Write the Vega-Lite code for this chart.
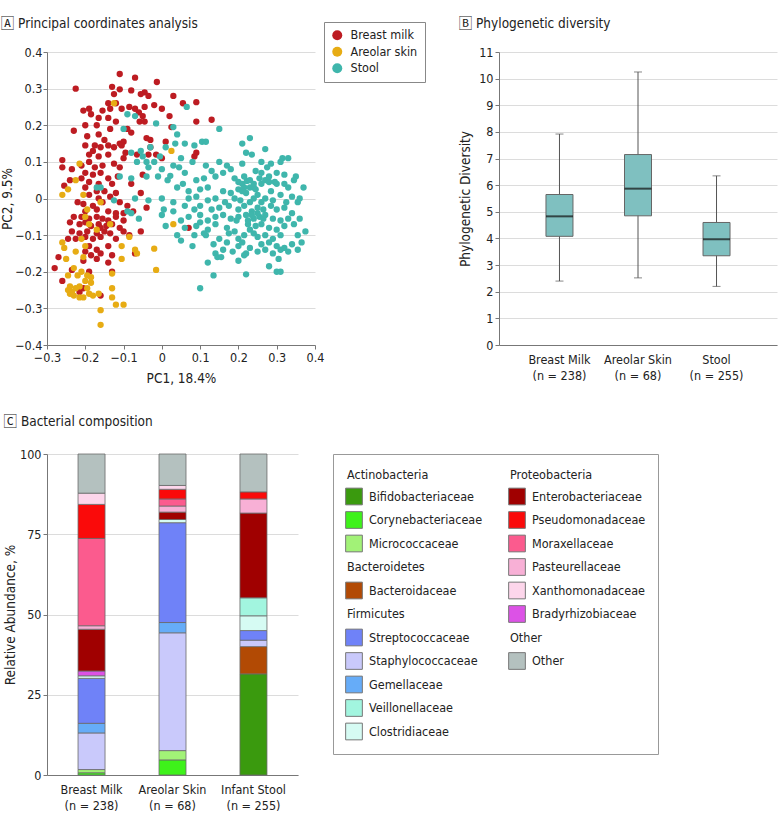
{
"$schema": "https://vega.github.io/schema/vega-lite/v6.json",
"padding": {"left": 0, "top": 16, "right": 2, "bottom": 2},
"resolve": {"scale": {"color": "independent"}, "legend": {"color": "independent"}},
"config": {
 "view": {"stroke": null},
 "font": "DejaVu Sans Condensed, sans-serif",
 "axis": {"labelFontSize": 12.5, "labelColor": "#222", "titleFontSize": 13.5, "titleFontWeight": "normal", "titleColor": "#222", "domainColor": "#777", "tickColor": "#777", "gridColor": "#dcdcdc", "labelOverlap": false, "labelFlush": false},
 "title": {"fontSize": 13.5, "fontWeight": "normal", "anchor": "start", "frame": "bounds", "color": "#222", "font": "DejaVu Sans Condensed, Noto Sans CJK SC, sans-serif"}
},
"columns": 1,
"align": "none",
"concat": [
{
 "hconcat": [
 {
  "title": {"text": "🄰  Principal coordinates analysis", "offset": 16},
  "width": 268, "height": 293,
  "data": {"values": [
{"sample":"Breast milk","pc1":-0.225,"pc2":0.3},{"sample":"Breast milk","pc1":-0.11,"pc2":0.34},{"sample":"Breast milk","pc1":-0.07,"pc2":0.33},{"sample":"Breast milk","pc1":-0.013,"pc2":0.318},{"sample":"Breast milk","pc1":-0.13,"pc2":0.305},{"sample":"Breast milk","pc1":-0.11,"pc2":0.298},{"sample":"Breast milk","pc1":-0.08,"pc2":0.295},{"sample":"Breast milk","pc1":-0.045,"pc2":0.29},{"sample":"Breast milk","pc1":-0.035,"pc2":0.28},{"sample":"Breast milk","pc1":-0.125,"pc2":0.285},{"sample":"Breast milk","pc1":-0.055,"pc2":0.285},{"sample":"Breast milk","pc1":0.03,"pc2":0.28},{"sample":"Breast milk","pc1":-0.12,"pc2":0.26},{"sample":"Breast milk","pc1":-0.14,"pc2":0.26},{"sample":"Breast milk","pc1":-0.085,"pc2":0.25},{"sample":"Breast milk","pc1":-0.07,"pc2":0.245},{"sample":"Breast milk","pc1":-0.045,"pc2":0.25},{"sample":"Breast milk","pc1":-0.02,"pc2":0.255},{"sample":"Breast milk","pc1":0.055,"pc2":0.26},{"sample":"Breast milk","pc1":0.09,"pc2":0.263},{"sample":"Breast milk","pc1":-0.19,"pc2":0.245},{"sample":"Breast milk","pc1":-0.205,"pc2":0.24},{"sample":"Breast milk","pc1":-0.155,"pc2":0.24},{"sample":"Breast milk","pc1":-0.135,"pc2":0.245},{"sample":"Breast milk","pc1":-0.105,"pc2":0.245},{"sample":"Breast milk","pc1":-0.06,"pc2":0.235},{"sample":"Breast milk","pc1":0.0,"pc2":0.245},{"sample":"Breast milk","pc1":-0.185,"pc2":0.23},{"sample":"Breast milk","pc1":-0.165,"pc2":0.22},{"sample":"Breast milk","pc1":-0.14,"pc2":0.22},{"sample":"Breast milk","pc1":-0.05,"pc2":0.225},{"sample":"Breast milk","pc1":-0.058,"pc2":0.21},{"sample":"Breast milk","pc1":-0.045,"pc2":0.21},{"sample":"Breast milk","pc1":0.02,"pc2":0.225},{"sample":"Breast milk","pc1":0.09,"pc2":0.21},{"sample":"Breast milk","pc1":0.13,"pc2":0.215},{"sample":"Breast milk","pc1":-0.2,"pc2":0.2},{"sample":"Breast milk","pc1":-0.17,"pc2":0.2},{"sample":"Breast milk","pc1":-0.12,"pc2":0.21},{"sample":"Breast milk","pc1":-0.23,"pc2":0.185},{"sample":"Breast milk","pc1":-0.135,"pc2":0.19},{"sample":"Breast milk","pc1":-0.09,"pc2":0.19},{"sample":"Breast milk","pc1":-0.08,"pc2":0.18},{"sample":"Breast milk","pc1":0.025,"pc2":0.195},{"sample":"Breast milk","pc1":-0.195,"pc2":0.17},{"sample":"Breast milk","pc1":-0.165,"pc2":0.175},{"sample":"Breast milk","pc1":-0.15,"pc2":0.16},{"sample":"Breast milk","pc1":-0.11,"pc2":0.15},{"sample":"Breast milk","pc1":-0.1,"pc2":0.155},{"sample":"Breast milk","pc1":-0.04,"pc2":0.165},{"sample":"Breast milk","pc1":-0.03,"pc2":0.16},{"sample":"Breast milk","pc1":0.01,"pc2":0.155},{"sample":"Breast milk","pc1":-0.2,"pc2":0.145},{"sample":"Breast milk","pc1":-0.175,"pc2":0.145},{"sample":"Breast milk","pc1":-0.16,"pc2":0.14},{"sample":"Breast milk","pc1":-0.14,"pc2":0.145},{"sample":"Breast milk","pc1":-0.125,"pc2":0.14},{"sample":"Breast milk","pc1":-0.105,"pc2":0.145},{"sample":"Breast milk","pc1":-0.095,"pc2":0.125},{"sample":"Breast milk","pc1":-0.03,"pc2":0.14},{"sample":"Breast milk","pc1":0.09,"pc2":0.125},{"sample":"Breast milk","pc1":0.085,"pc2":0.115},{"sample":"Breast milk","pc1":-0.18,"pc2":0.13},{"sample":"Breast milk","pc1":-0.19,"pc2":0.12},{"sample":"Breast milk","pc1":-0.165,"pc2":0.115},{"sample":"Breast milk","pc1":-0.14,"pc2":0.12},{"sample":"Breast milk","pc1":-0.1,"pc2":0.11},{"sample":"Breast milk","pc1":-0.065,"pc2":0.12},{"sample":"Breast milk","pc1":-0.035,"pc2":0.12},{"sample":"Breast milk","pc1":-0.015,"pc2":0.12},{"sample":"Breast milk","pc1":0.0,"pc2":0.11},{"sample":"Breast milk","pc1":-0.26,"pc2":0.105},{"sample":"Breast milk","pc1":-0.26,"pc2":0.085},{"sample":"Breast milk","pc1":-0.235,"pc2":0.08},{"sample":"Breast milk","pc1":-0.21,"pc2":0.09},{"sample":"Breast milk","pc1":-0.19,"pc2":0.1},{"sample":"Breast milk","pc1":-0.175,"pc2":0.085},{"sample":"Breast milk","pc1":-0.155,"pc2":0.09},{"sample":"Breast milk","pc1":-0.125,"pc2":0.095},{"sample":"Breast milk","pc1":-0.11,"pc2":0.085},{"sample":"Breast milk","pc1":-0.2,"pc2":0.07},{"sample":"Breast milk","pc1":-0.18,"pc2":0.065},{"sample":"Breast milk","pc1":-0.16,"pc2":0.07},{"sample":"Breast milk","pc1":-0.14,"pc2":0.055},{"sample":"Breast milk","pc1":-0.115,"pc2":0.06},{"sample":"Breast milk","pc1":-0.05,"pc2":0.065},{"sample":"Breast milk","pc1":-0.21,"pc2":0.055},{"sample":"Breast milk","pc1":-0.24,"pc2":0.05},{"sample":"Breast milk","pc1":-0.255,"pc2":0.035},{"sample":"Breast milk","pc1":-0.19,"pc2":0.045},{"sample":"Breast milk","pc1":-0.165,"pc2":0.04},{"sample":"Breast milk","pc1":-0.13,"pc2":0.04},{"sample":"Breast milk","pc1":-0.08,"pc2":0.04},{"sample":"Breast milk","pc1":-0.2,"pc2":0.03},{"sample":"Breast milk","pc1":-0.17,"pc2":0.02},{"sample":"Breast milk","pc1":-0.15,"pc2":0.02},{"sample":"Breast milk","pc1":-0.12,"pc2":0.015},{"sample":"Breast milk","pc1":-0.055,"pc2":0.015},{"sample":"Breast milk","pc1":-0.19,"pc2":0.01},{"sample":"Breast milk","pc1":-0.165,"pc2":0.0},{"sample":"Breast milk","pc1":-0.135,"pc2":0.005},{"sample":"Breast milk","pc1":-0.22,"pc2":-0.01},{"sample":"Breast milk","pc1":-0.205,"pc2":-0.015},{"sample":"Breast milk","pc1":-0.18,"pc2":-0.02},{"sample":"Breast milk","pc1":-0.155,"pc2":-0.01},{"sample":"Breast milk","pc1":-0.11,"pc2":-0.01},{"sample":"Breast milk","pc1":-0.09,"pc2":-0.02},{"sample":"Breast milk","pc1":-0.04,"pc2":-0.025},{"sample":"Breast milk","pc1":-0.2,"pc2":-0.035},{"sample":"Breast milk","pc1":-0.17,"pc2":-0.03},{"sample":"Breast milk","pc1":-0.14,"pc2":-0.035},{"sample":"Breast milk","pc1":-0.12,"pc2":-0.04},{"sample":"Breast milk","pc1":-0.1,"pc2":-0.04},{"sample":"Breast milk","pc1":-0.075,"pc2":-0.035},{"sample":"Breast milk","pc1":-0.23,"pc2":-0.05},{"sample":"Breast milk","pc1":-0.21,"pc2":-0.05},{"sample":"Breast milk","pc1":-0.19,"pc2":-0.055},{"sample":"Breast milk","pc1":-0.17,"pc2":-0.05},{"sample":"Breast milk","pc1":-0.155,"pc2":-0.055},{"sample":"Breast milk","pc1":-0.14,"pc2":-0.06},{"sample":"Breast milk","pc1":-0.12,"pc2":-0.05},{"sample":"Breast milk","pc1":-0.1,"pc2":-0.06},{"sample":"Breast milk","pc1":-0.24,"pc2":-0.065},{"sample":"Breast milk","pc1":-0.215,"pc2":-0.07},{"sample":"Breast milk","pc1":-0.2,"pc2":-0.065},{"sample":"Breast milk","pc1":-0.185,"pc2":-0.075},{"sample":"Breast milk","pc1":-0.165,"pc2":-0.07},{"sample":"Breast milk","pc1":-0.145,"pc2":-0.075},{"sample":"Breast milk","pc1":-0.13,"pc2":-0.07},{"sample":"Breast milk","pc1":-0.16,"pc2":-0.08},{"sample":"Breast milk","pc1":-0.11,"pc2":-0.08},{"sample":"Breast milk","pc1":0.07,"pc2":-0.08},{"sample":"Breast milk","pc1":-0.235,"pc2":-0.09},{"sample":"Breast milk","pc1":-0.215,"pc2":-0.095},{"sample":"Breast milk","pc1":-0.195,"pc2":-0.09},{"sample":"Breast milk","pc1":-0.17,"pc2":-0.095},{"sample":"Breast milk","pc1":-0.15,"pc2":-0.09},{"sample":"Breast milk","pc1":-0.135,"pc2":-0.095},{"sample":"Breast milk","pc1":-0.1,"pc2":-0.09},{"sample":"Breast milk","pc1":-0.085,"pc2":-0.1},{"sample":"Breast milk","pc1":-0.055,"pc2":-0.09},{"sample":"Breast milk","pc1":-0.245,"pc2":-0.11},{"sample":"Breast milk","pc1":-0.225,"pc2":-0.11},{"sample":"Breast milk","pc1":-0.2,"pc2":-0.105},{"sample":"Breast milk","pc1":-0.18,"pc2":-0.11},{"sample":"Breast milk","pc1":-0.16,"pc2":-0.105},{"sample":"Breast milk","pc1":-0.12,"pc2":-0.11},{"sample":"Breast milk","pc1":-0.19,"pc2":-0.13},{"sample":"Breast milk","pc1":-0.17,"pc2":-0.14},{"sample":"Breast milk","pc1":-0.14,"pc2":-0.13},{"sample":"Breast milk","pc1":-0.2,"pc2":-0.145},{"sample":"Breast milk","pc1":-0.185,"pc2":-0.155},{"sample":"Breast milk","pc1":-0.16,"pc2":-0.15},{"sample":"Breast milk","pc1":-0.13,"pc2":-0.155},{"sample":"Breast milk","pc1":-0.07,"pc2":-0.15},{"sample":"Breast milk","pc1":-0.27,"pc2":-0.16},{"sample":"Breast milk","pc1":-0.28,"pc2":-0.19},{"sample":"Breast milk","pc1":-0.205,"pc2":-0.17},{"sample":"Breast milk","pc1":-0.17,"pc2":-0.165},{"sample":"Breast milk","pc1":-0.14,"pc2":-0.175},{"sample":"Breast milk","pc1":-0.235,"pc2":-0.195},{"sample":"Breast milk","pc1":-0.26,"pc2":-0.225},{"sample":"Breast milk","pc1":-0.215,"pc2":-0.255},{"sample":"Breast milk","pc1":-0.205,"pc2":-0.245},{"sample":"Breast milk","pc1":-0.16,"pc2":-0.265},{"sample":"Breast milk","pc1":-0.13,"pc2":-0.2},{"sample":"Breast milk","pc1":-0.19,"pc2":-0.2},
{"sample":"Areolar skin","pc1":-0.125,"pc2":0.26},{"sample":"Areolar skin","pc1":0.025,"pc2":0.13},{"sample":"Areolar skin","pc1":-0.215,"pc2":0.095},{"sample":"Areolar skin","pc1":-0.26,"pc2":0.01},{"sample":"Areolar skin","pc1":-0.225,"pc2":0.05},{"sample":"Areolar skin","pc1":-0.245,"pc2":0.025},{"sample":"Areolar skin","pc1":-0.205,"pc2":0.01},{"sample":"Areolar skin","pc1":-0.16,"pc2":-0.01},{"sample":"Areolar skin","pc1":-0.195,"pc2":-0.03},{"sample":"Areolar skin","pc1":-0.2,"pc2":-0.05},{"sample":"Areolar skin","pc1":-0.19,"pc2":-0.07},{"sample":"Areolar skin","pc1":-0.135,"pc2":-0.07},{"sample":"Areolar skin","pc1":-0.17,"pc2":-0.085},{"sample":"Areolar skin","pc1":-0.085,"pc2":-0.105},{"sample":"Areolar skin","pc1":0.03,"pc2":-0.07},{"sample":"Areolar skin","pc1":-0.26,"pc2":-0.12},{"sample":"Areolar skin","pc1":-0.255,"pc2":-0.135},{"sample":"Areolar skin","pc1":-0.21,"pc2":-0.11},{"sample":"Areolar skin","pc1":-0.2,"pc2":-0.13},{"sample":"Areolar skin","pc1":-0.105,"pc2":-0.13},{"sample":"Areolar skin","pc1":-0.065,"pc2":-0.15},{"sample":"Areolar skin","pc1":-0.07,"pc2":-0.14},{"sample":"Areolar skin","pc1":-0.02,"pc2":-0.137},{"sample":"Areolar skin","pc1":-0.25,"pc2":-0.165},{"sample":"Areolar skin","pc1":-0.225,"pc2":-0.145},{"sample":"Areolar skin","pc1":-0.205,"pc2":-0.16},{"sample":"Areolar skin","pc1":-0.105,"pc2":-0.165},{"sample":"Areolar skin","pc1":-0.23,"pc2":-0.19},{"sample":"Areolar skin","pc1":-0.21,"pc2":-0.2},{"sample":"Areolar skin","pc1":-0.245,"pc2":-0.21},{"sample":"Areolar skin","pc1":-0.22,"pc2":-0.21},{"sample":"Areolar skin","pc1":-0.195,"pc2":-0.21},{"sample":"Areolar skin","pc1":-0.185,"pc2":-0.215},{"sample":"Areolar skin","pc1":-0.2,"pc2":-0.225},{"sample":"Areolar skin","pc1":-0.185,"pc2":-0.23},{"sample":"Areolar skin","pc1":-0.24,"pc2":-0.24},{"sample":"Areolar skin","pc1":-0.235,"pc2":-0.255},{"sample":"Areolar skin","pc1":-0.225,"pc2":-0.245},{"sample":"Areolar skin","pc1":-0.215,"pc2":-0.24},{"sample":"Areolar skin","pc1":-0.195,"pc2":-0.245},{"sample":"Areolar skin","pc1":-0.19,"pc2":-0.26},{"sample":"Areolar skin","pc1":-0.24,"pc2":-0.26},{"sample":"Areolar skin","pc1":-0.23,"pc2":-0.265},{"sample":"Areolar skin","pc1":-0.215,"pc2":-0.27},{"sample":"Areolar skin","pc1":-0.205,"pc2":-0.27},{"sample":"Areolar skin","pc1":-0.18,"pc2":-0.265},{"sample":"Areolar skin","pc1":-0.245,"pc2":-0.25},{"sample":"Areolar skin","pc1":-0.13,"pc2":-0.205},{"sample":"Areolar skin","pc1":-0.13,"pc2":-0.245},{"sample":"Areolar skin","pc1":-0.13,"pc2":-0.27},{"sample":"Areolar skin","pc1":-0.12,"pc2":-0.29},{"sample":"Areolar skin","pc1":-0.1,"pc2":-0.29},{"sample":"Areolar skin","pc1":-0.16,"pc2":-0.305},{"sample":"Areolar skin","pc1":-0.16,"pc2":-0.345},{"sample":"Areolar skin","pc1":-0.015,"pc2":-0.195},{"sample":"Areolar skin","pc1":-0.165,"pc2":-0.26},
{"sample":"Stool","pc1":0.065,"pc2":0.25},{"sample":"Stool","pc1":-0.09,"pc2":0.23},{"sample":"Stool","pc1":-0.07,"pc2":0.225},{"sample":"Stool","pc1":-0.015,"pc2":0.205},{"sample":"Stool","pc1":0.04,"pc2":0.175},{"sample":"Stool","pc1":-0.1,"pc2":0.19},{"sample":"Stool","pc1":0.15,"pc2":0.19},{"sample":"Stool","pc1":0.23,"pc2":0.165},{"sample":"Stool","pc1":0.21,"pc2":0.15},{"sample":"Stool","pc1":0.105,"pc2":0.155},{"sample":"Stool","pc1":0.115,"pc2":0.155},{"sample":"Stool","pc1":0.085,"pc2":0.145},{"sample":"Stool","pc1":0.06,"pc2":0.15},{"sample":"Stool","pc1":0.27,"pc2":0.135},{"sample":"Stool","pc1":0.22,"pc2":0.125},{"sample":"Stool","pc1":0.235,"pc2":0.12},{"sample":"Stool","pc1":-0.055,"pc2":0.13},{"sample":"Stool","pc1":-0.03,"pc2":0.14},{"sample":"Stool","pc1":0.01,"pc2":0.14},{"sample":"Stool","pc1":0.315,"pc2":0.11},{"sample":"Stool","pc1":0.31,"pc2":0.1},{"sample":"Stool","pc1":0.26,"pc2":0.1},{"sample":"Stool","pc1":0.285,"pc2":0.095},{"sample":"Stool","pc1":0.275,"pc2":0.085},{"sample":"Stool","pc1":0.21,"pc2":0.095},{"sample":"Stool","pc1":0.17,"pc2":0.09},{"sample":"Stool","pc1":0.15,"pc2":0.1},{"sample":"Stool","pc1":0.115,"pc2":0.09},{"sample":"Stool","pc1":0.03,"pc2":0.09},{"sample":"Stool","pc1":0.045,"pc2":0.085},{"sample":"Stool","pc1":-0.02,"pc2":0.1},{"sample":"Stool","pc1":0.0,"pc2":0.08},{"sample":"Stool","pc1":-0.035,"pc2":0.085},{"sample":"Stool","pc1":0.08,"pc2":0.1},{"sample":"Stool","pc1":0.06,"pc2":0.07},{"sample":"Stool","pc1":0.13,"pc2":0.075},{"sample":"Stool","pc1":0.16,"pc2":0.07},{"sample":"Stool","pc1":0.18,"pc2":0.08},{"sample":"Stool","pc1":0.245,"pc2":0.075},{"sample":"Stool","pc1":0.26,"pc2":0.07},{"sample":"Stool","pc1":0.3,"pc2":0.07},{"sample":"Stool","pc1":0.32,"pc2":0.065},{"sample":"Stool","pc1":0.35,"pc2":0.06},{"sample":"Stool","pc1":-0.04,"pc2":0.06},{"sample":"Stool","pc1":-0.01,"pc2":0.06},{"sample":"Stool","pc1":0.015,"pc2":0.05},{"sample":"Stool","pc1":0.022,"pc2":0.062},{"sample":"Stool","pc1":0.09,"pc2":0.05},{"sample":"Stool","pc1":0.11,"pc2":0.055},{"sample":"Stool","pc1":0.14,"pc2":0.06},{"sample":"Stool","pc1":0.19,"pc2":0.055},{"sample":"Stool","pc1":0.2,"pc2":0.045},{"sample":"Stool","pc1":0.21,"pc2":0.04},{"sample":"Stool","pc1":0.215,"pc2":0.03},{"sample":"Stool","pc1":0.222,"pc2":0.048},{"sample":"Stool","pc1":0.23,"pc2":0.05},{"sample":"Stool","pc1":0.24,"pc2":0.03},{"sample":"Stool","pc1":0.26,"pc2":0.04},{"sample":"Stool","pc1":0.27,"pc2":0.05},{"sample":"Stool","pc1":0.28,"pc2":0.045},{"sample":"Stool","pc1":0.3,"pc2":0.04},{"sample":"Stool","pc1":0.33,"pc2":0.03},{"sample":"Stool","pc1":0.37,"pc2":0.03},{"sample":"Stool","pc1":0.04,"pc2":0.03},{"sample":"Stool","pc1":0.055,"pc2":0.04},{"sample":"Stool","pc1":0.07,"pc2":0.02},{"sample":"Stool","pc1":0.1,"pc2":0.025},{"sample":"Stool","pc1":0.12,"pc2":0.03},{"sample":"Stool","pc1":0.16,"pc2":0.02},{"sample":"Stool","pc1":0.18,"pc2":0.015},{"sample":"Stool","pc1":0.2,"pc2":0.025},{"sample":"Stool","pc1":0.22,"pc2":0.015},{"sample":"Stool","pc1":0.245,"pc2":0.025},{"sample":"Stool","pc1":0.25,"pc2":0.01},{"sample":"Stool","pc1":0.285,"pc2":0.02},{"sample":"Stool","pc1":0.31,"pc2":0.01},{"sample":"Stool","pc1":0.34,"pc2":0.005},{"sample":"Stool","pc1":0.355,"pc2":-0.01},{"sample":"Stool","pc1":-0.16,"pc2":0.03},{"sample":"Stool","pc1":-0.08,"pc2":0.055},{"sample":"Stool","pc1":-0.07,"pc2":0.0},{"sample":"Stool","pc1":-0.035,"pc2":-0.005},{"sample":"Stool","pc1":0.0,"pc2":0.0},{"sample":"Stool","pc1":0.03,"pc2":-0.01},{"sample":"Stool","pc1":0.07,"pc2":0.0},{"sample":"Stool","pc1":0.09,"pc2":0.005},{"sample":"Stool","pc1":0.12,"pc2":-0.005},{"sample":"Stool","pc1":0.14,"pc2":0.0},{"sample":"Stool","pc1":0.165,"pc2":-0.01},{"sample":"Stool","pc1":0.19,"pc2":0.0},{"sample":"Stool","pc1":0.205,"pc2":-0.005},{"sample":"Stool","pc1":0.23,"pc2":-0.01},{"sample":"Stool","pc1":0.27,"pc2":0.0},{"sample":"Stool","pc1":0.29,"pc2":-0.005},{"sample":"Stool","pc1":0.325,"pc2":-0.01},{"sample":"Stool","pc1":-0.08,"pc2":-0.04},{"sample":"Stool","pc1":-0.06,"pc2":-0.055},{"sample":"Stool","pc1":0.005,"pc2":-0.03},{"sample":"Stool","pc1":0.03,"pc2":-0.035},{"sample":"Stool","pc1":0.06,"pc2":-0.02},{"sample":"Stool","pc1":0.085,"pc2":-0.03},{"sample":"Stool","pc1":0.1,"pc2":-0.02},{"sample":"Stool","pc1":0.13,"pc2":-0.03},{"sample":"Stool","pc1":0.15,"pc2":-0.025},{"sample":"Stool","pc1":0.175,"pc2":-0.02},{"sample":"Stool","pc1":0.2,"pc2":-0.03},{"sample":"Stool","pc1":0.215,"pc2":-0.02},{"sample":"Stool","pc1":0.235,"pc2":-0.035},{"sample":"Stool","pc1":0.25,"pc2":-0.025},{"sample":"Stool","pc1":0.265,"pc2":-0.03},{"sample":"Stool","pc1":0.285,"pc2":-0.02},{"sample":"Stool","pc1":0.3,"pc2":-0.03},{"sample":"Stool","pc1":0.32,"pc2":-0.025},{"sample":"Stool","pc1":0.34,"pc2":-0.04},{"sample":"Stool","pc1":0.36,"pc2":-0.055},{"sample":"Stool","pc1":0.0,"pc2":-0.045},{"sample":"Stool","pc1":0.01,"pc2":-0.075},{"sample":"Stool","pc1":0.05,"pc2":-0.06},{"sample":"Stool","pc1":0.07,"pc2":-0.05},{"sample":"Stool","pc1":0.1,"pc2":-0.045},{"sample":"Stool","pc1":0.12,"pc2":-0.06},{"sample":"Stool","pc1":0.14,"pc2":-0.05},{"sample":"Stool","pc1":0.16,"pc2":-0.045},{"sample":"Stool","pc1":0.18,"pc2":-0.055},{"sample":"Stool","pc1":0.2,"pc2":-0.05},{"sample":"Stool","pc1":0.22,"pc2":-0.045},{"sample":"Stool","pc1":0.24,"pc2":-0.055},{"sample":"Stool","pc1":0.255,"pc2":-0.05},{"sample":"Stool","pc1":0.27,"pc2":-0.045},{"sample":"Stool","pc1":0.29,"pc2":-0.055},{"sample":"Stool","pc1":0.31,"pc2":-0.06},{"sample":"Stool","pc1":0.33,"pc2":-0.055},{"sample":"Stool","pc1":0.06,"pc2":-0.08},{"sample":"Stool","pc1":0.09,"pc2":-0.075},{"sample":"Stool","pc1":0.12,"pc2":-0.085},{"sample":"Stool","pc1":0.14,"pc2":-0.07},{"sample":"Stool","pc1":0.17,"pc2":-0.08},{"sample":"Stool","pc1":0.19,"pc2":-0.09},{"sample":"Stool","pc1":0.225,"pc2":-0.07},{"sample":"Stool","pc1":0.23,"pc2":-0.085},{"sample":"Stool","pc1":0.245,"pc2":-0.075},{"sample":"Stool","pc1":0.26,"pc2":-0.07},{"sample":"Stool","pc1":0.28,"pc2":-0.08},{"sample":"Stool","pc1":0.3,"pc2":-0.085},{"sample":"Stool","pc1":0.32,"pc2":-0.075},{"sample":"Stool","pc1":0.345,"pc2":-0.07},{"sample":"Stool","pc1":0.375,"pc2":-0.09},{"sample":"Stool","pc1":0.04,"pc2":-0.1},{"sample":"Stool","pc1":0.085,"pc2":-0.1},{"sample":"Stool","pc1":0.115,"pc2":-0.1},{"sample":"Stool","pc1":0.15,"pc2":-0.11},{"sample":"Stool","pc1":0.175,"pc2":-0.095},{"sample":"Stool","pc1":0.2,"pc2":-0.11},{"sample":"Stool","pc1":0.215,"pc2":-0.1},{"sample":"Stool","pc1":0.24,"pc2":-0.095},{"sample":"Stool","pc1":0.25,"pc2":-0.105},{"sample":"Stool","pc1":0.27,"pc2":-0.1},{"sample":"Stool","pc1":0.29,"pc2":-0.11},{"sample":"Stool","pc1":0.31,"pc2":-0.1},{"sample":"Stool","pc1":0.355,"pc2":-0.1},{"sample":"Stool","pc1":0.05,"pc2":-0.115},{"sample":"Stool","pc1":0.08,"pc2":-0.13},{"sample":"Stool","pc1":0.135,"pc2":-0.125},{"sample":"Stool","pc1":0.17,"pc2":-0.12},{"sample":"Stool","pc1":0.2,"pc2":-0.13},{"sample":"Stool","pc1":0.21,"pc2":-0.12},{"sample":"Stool","pc1":0.23,"pc2":-0.135},{"sample":"Stool","pc1":0.26,"pc2":-0.125},{"sample":"Stool","pc1":0.28,"pc2":-0.12},{"sample":"Stool","pc1":0.3,"pc2":-0.13},{"sample":"Stool","pc1":0.32,"pc2":-0.135},{"sample":"Stool","pc1":0.34,"pc2":-0.125},{"sample":"Stool","pc1":0.365,"pc2":-0.12},{"sample":"Stool","pc1":0.14,"pc2":-0.15},{"sample":"Stool","pc1":0.16,"pc2":-0.14},{"sample":"Stool","pc1":0.185,"pc2":-0.145},{"sample":"Stool","pc1":0.22,"pc2":-0.15},{"sample":"Stool","pc1":0.25,"pc2":-0.145},{"sample":"Stool","pc1":0.27,"pc2":-0.14},{"sample":"Stool","pc1":0.31,"pc2":-0.14},{"sample":"Stool","pc1":0.33,"pc2":-0.145},{"sample":"Stool","pc1":0.355,"pc2":-0.14},{"sample":"Stool","pc1":0.145,"pc2":-0.16},{"sample":"Stool","pc1":0.155,"pc2":-0.16},{"sample":"Stool","pc1":0.215,"pc2":-0.155},{"sample":"Stool","pc1":0.29,"pc2":-0.15},{"sample":"Stool","pc1":0.305,"pc2":-0.165},{"sample":"Stool","pc1":0.12,"pc2":-0.175},{"sample":"Stool","pc1":0.2,"pc2":-0.17},{"sample":"Stool","pc1":0.28,"pc2":-0.185},{"sample":"Stool","pc1":0.3,"pc2":-0.2},{"sample":"Stool","pc1":0.31,"pc2":-0.2},{"sample":"Stool","pc1":0.135,"pc2":-0.21},{"sample":"Stool","pc1":0.22,"pc2":-0.207},{"sample":"Stool","pc1":0.1,"pc2":-0.245},{"sample":"Stool","pc1":-0.09,"pc2":-0.035},{"sample":"Stool","pc1":-0.125,"pc2":-0.005},{"sample":"Stool","pc1":-0.17,"pc2":0.03},{"sample":"Stool","pc1":-0.11,"pc2":0.06},{"sample":"Stool","pc1":-0.08,"pc2":0.125},{"sample":"Stool","pc1":-0.05,"pc2":0.115},{"sample":"Stool","pc1":-0.04,"pc2":0.1},{"sample":"Stool","pc1":0.05,"pc2":0.11},{"sample":"Stool","pc1":0.035,"pc2":0.15},{"sample":"Stool","pc1":0.03,"pc2":0.195},{"sample":"Stool","pc1":-0.005,"pc2":0.115},{"sample":"Stool","pc1":-0.065,"pc2":0.1},{"sample":"Stool","pc1":0.33,"pc2":0.11},{"sample":"Stool","pc1":0.295,"pc2":0.045},{"sample":"Stool","pc1":0.255,"pc2":0.055},{"sample":"Stool","pc1":0.215,"pc2":0.06},{"sample":"Stool","pc1":0.1,"pc2":-0.065},{"sample":"Stool","pc1":0.11,"pc2":-0.095},{"sample":"Stool","pc1":0.26,"pc2":-0.01},{"sample":"Stool","pc1":0.24,"pc2":0.0},{"sample":"Stool","pc1":0.195,"pc2":-0.06},{"sample":"Stool","pc1":0.225,"pc2":-0.06},{"sample":"Stool","pc1":0.25,"pc2":-0.04},{"sample":"Stool","pc1":0.265,"pc2":-0.055},{"sample":"Stool","pc1":0.235,"pc2":-0.045},{"sample":"Stool","pc1":0.21,"pc2":0.02},{"sample":"Stool","pc1":0.23,"pc2":0.03},{"sample":"Stool","pc1":0.24,"pc2":0.04},{"sample":"Stool","pc1":0.32,"pc2":0.04},{"sample":"Stool","pc1":0.345,"pc2":0.05},{"sample":"Stool","pc1":0.36,"pc2":0.0},{"sample":"Stool","pc1":0.28,"pc2":0.06}
  ]},
  "mark": {"type": "circle", "size": 40, "opacity": 1},
  "encoding": {
   "x": {"field": "pc1", "type": "quantitative", "scale": {"domain": [-0.3, 0.4], "nice": false, "zero": false},
     "axis": {"title": "PC1, 18.4%", "values": [-0.3,-0.2,-0.1,0,0.1,0.2,0.3,0.4], "grid": false, "labelExpr": "datum.value == 0 ? '0' : format(datum.value, '.1f')", "tickSize": 4, "titlePadding": 8}},
   "y": {"field": "pc2", "type": "quantitative", "scale": {"domain": [-0.4, 0.4], "nice": false, "zero": false},
     "axis": {"title": "PC2, 9.5%", "values": [-0.4,-0.3,-0.2,-0.1,0,0.1,0.2,0.3,0.4], "labelExpr": "datum.value == 0 ? '0' : format(datum.value, '.1f')", "tickSize": 4, "titlePadding": 0, "labelPadding": 1}},
   "color": {"field": "sample", "type": "nominal", "scale": {"domain": ["Breast milk", "Areolar skin", "Stool"], "range": ["#bd1c22", "#e7ac14", "#3fb6ac"]},
     "legend": {"title": null, "orient": "none", "legendX": 277, "legendY": -30, "strokeColor": "#888", "padding": 7, "symbolType": "circle", "symbolSize": 100, "labelFontSize": 12.5, "labelColor": "#222", "rowPadding": 3.5, "labelOffset": 7, "symbolStrokeWidth": 0}}
  }
 },
 {
  "title": {"text": "🄱  Phylogenetic diversity", "offset": 16},
  "width": 278, "height": 293,
  "data": {"values": [
   {"group": "Breast Milk|(n = 238)", "low": 2.4, "q1": 4.08, "median": 4.83, "q3": 5.65, "high": 7.92},
   {"group": "Areolar Skin|(n = 68)", "low": 2.52, "q1": 4.85, "median": 5.87, "q3": 7.15, "high": 10.25},
   {"group": "Stool|(n = 255)", "low": 2.2, "q1": 3.35, "median": 3.97, "q3": 4.6, "high": 6.35}
  ]},
  "encoding": {
   "x": {"field": "group", "type": "nominal", "sort": null, "scale": {"paddingInner": 0, "paddingOuter": 0.27},
     "axis": {"title": null, "labelAngle": 0, "ticks": false, "labelExpr": "split(datum.value, '|')", "labelLineHeight": 16, "labelPadding": 8}}
  },
  "layer": [
   {"mark": {"type": "rule", "color": "#555", "strokeWidth": 1},
    "encoding": {"y": {"field": "low", "type": "quantitative", "scale": {"domain": [0, 11], "nice": false},
       "axis": {"title": "Phylogenetic Diversity", "values": [0,1,2,3,4,5,6,7,8,9,10,11], "tickSize": 4, "titlePadding": 6, "labelPadding": 2}},
     "y2": {"field": "high"}}},
   {"mark": {"type": "tick", "color": "#555", "size": 8, "thickness": 1}, "encoding": {"y": {"field": "low", "type": "quantitative",
       "axis": {"title": "Phylogenetic Diversity", "values": [0,1,2,3,4,5,6,7,8,9,10,11], "tickSize": 4, "titlePadding": 6, "labelPadding": 2}}}},
   {"mark": {"type": "tick", "color": "#555", "size": 8, "thickness": 1}, "encoding": {"y": {"field": "high", "type": "quantitative",
       "axis": {"title": "Phylogenetic Diversity", "values": [0,1,2,3,4,5,6,7,8,9,10,11], "tickSize": 4, "titlePadding": 6, "labelPadding": 2}}}},
   {"mark": {"type": "bar", "size": 27, "fill": "#7fc0c0", "stroke": "#666", "strokeWidth": 1},
    "encoding": {"y": {"field": "q1", "type": "quantitative",
       "axis": {"title": "Phylogenetic Diversity", "values": [0,1,2,3,4,5,6,7,8,9,10,11], "tickSize": 4, "titlePadding": 6, "labelPadding": 2}}, "y2": {"field": "q3"}}},
   {"mark": {"type": "tick", "color": "#111", "size": 27, "thickness": 2}, "encoding": {"y": {"field": "median", "type": "quantitative",
       "axis": {"title": "Phylogenetic Diversity", "values": [0,1,2,3,4,5,6,7,8,9,10,11], "tickSize": 4, "titlePadding": 6, "labelPadding": 2}}}}
  ]
 }
 ],
 "spacing": 134
},
{
 "title": {"text": "🄲  Bacterial composition", "offset": 20},
 "width": 251, "height": 321,
 "data": {"values": [
  {"site":"Breast Milk|(n = 238)","family":"Corynebacteriaceae","rank":2,"pct":0.7},
  {"site":"Breast Milk|(n = 238)","family":"Micrococcaceae","rank":3,"pct":1.0},
  {"site":"Breast Milk|(n = 238)","family":"Staphylococcaceae","rank":5,"pct":11.4},
  {"site":"Breast Milk|(n = 238)","family":"Gemellaceae","rank":6,"pct":3.0},
  {"site":"Breast Milk|(n = 238)","family":"Streptococcaceae","rank":7,"pct":14.0},
  {"site":"Breast Milk|(n = 238)","family":"Clostridiaceae","rank":8,"pct":0.8},
  {"site":"Breast Milk|(n = 238)","family":"Bradyrhizobiaceae","rank":10,"pct":1.5},
  {"site":"Breast Milk|(n = 238)","family":"Enterobacteriaceae","rank":11,"pct":13.0},
  {"site":"Breast Milk|(n = 238)","family":"Pasteurellaceae","rank":12,"pct":1.1},
  {"site":"Breast Milk|(n = 238)","family":"Moraxellaceae","rank":13,"pct":27.2},
  {"site":"Breast Milk|(n = 238)","family":"Pseudomonadaceae","rank":14,"pct":10.6},
  {"site":"Breast Milk|(n = 238)","family":"Xanthomonadaceae","rank":15,"pct":3.5},
  {"site":"Breast Milk|(n = 238)","family":"Other","rank":16,"pct":12.2},
  {"site":"Areolar Skin|(n = 68)","family":"Corynebacteriaceae","rank":2,"pct":4.7},
  {"site":"Areolar Skin|(n = 68)","family":"Micrococcaceae","rank":3,"pct":2.9},
  {"site":"Areolar Skin|(n = 68)","family":"Staphylococcaceae","rank":5,"pct":36.7},
  {"site":"Areolar Skin|(n = 68)","family":"Gemellaceae","rank":6,"pct":3.2},
  {"site":"Areolar Skin|(n = 68)","family":"Streptococcaceae","rank":7,"pct":31.1},
  {"site":"Areolar Skin|(n = 68)","family":"Clostridiaceae","rank":8,"pct":1.0},
  {"site":"Areolar Skin|(n = 68)","family":"Enterobacteriaceae","rank":11,"pct":2.3},
  {"site":"Areolar Skin|(n = 68)","family":"Pasteurellaceae","rank":12,"pct":1.9},
  {"site":"Areolar Skin|(n = 68)","family":"Moraxellaceae","rank":13,"pct":2.2},
  {"site":"Areolar Skin|(n = 68)","family":"Pseudomonadaceae","rank":14,"pct":3.0},
  {"site":"Areolar Skin|(n = 68)","family":"Xanthomonadaceae","rank":15,"pct":1.2},
  {"site":"Areolar Skin|(n = 68)","family":"Other","rank":16,"pct":9.8},
  {"site":"Infant Stool|(n = 255)","family":"Bifidobacteriaceae","rank":1,"pct":31.5},
  {"site":"Infant Stool|(n = 255)","family":"Bacteroidaceae","rank":4,"pct":8.5},
  {"site":"Infant Stool|(n = 255)","family":"Staphylococcaceae","rank":5,"pct":2.0},
  {"site":"Infant Stool|(n = 255)","family":"Streptococcaceae","rank":7,"pct":3.0},
  {"site":"Infant Stool|(n = 255)","family":"Clostridiaceae","rank":8,"pct":4.6},
  {"site":"Infant Stool|(n = 255)","family":"Veillonellaceae","rank":9,"pct":5.6},
  {"site":"Infant Stool|(n = 255)","family":"Enterobacteriaceae","rank":11,"pct":26.4},
  {"site":"Infant Stool|(n = 255)","family":"Pasteurellaceae","rank":12,"pct":4.4},
  {"site":"Infant Stool|(n = 255)","family":"Pseudomonadaceae","rank":14,"pct":2.2},
  {"site":"Infant Stool|(n = 255)","family":"Other","rank":16,"pct":11.8}
 ]},
 "mark": {"type": "bar", "size": 27, "stroke": "#6a6a6a", "strokeWidth": 0.8},
 "encoding": {
  "x": {"field": "site", "type": "nominal", "sort": null, "scale": {"paddingInner": 0, "paddingOuter": 0.05},
    "axis": {"title": null, "labelAngle": 0, "ticks": false, "labelExpr": "split(datum.value, '|')", "labelLineHeight": 16, "labelPadding": 8}},
  "y": {"field": "pct", "type": "quantitative", "stack": "zero", "scale": {"domain": [0, 100], "nice": false},
    "axis": {"title": "Relative Abundance, %", "values": [0, 25, 50, 75, 100], "tickSize": 4, "titlePadding": 2, "labelPadding": 2}},
  "order": {"field": "rank", "type": "quantitative", "sort": "ascending"},
  "color": {"field": "family", "type": "nominal",
    "scale": {
     "domain": ["Actinobacteria","Bifidobacteriaceae","Corynebacteriaceae","Micrococcaceae","Bacteroidetes","Bacteroidaceae","Firmicutes","Streptococcaceae","Staphylococcaceae","Gemellaceae","Veillonellaceae","Clostridiaceae","Proteobacteria","Enterobacteriaceae","Pseudomonadaceae","Moraxellaceae","Pasteurellaceae","Xanthomonadaceae","Bradyrhizobiaceae","Other phylum","Other","blank1","blank2"],
     "range": ["transparent","#3a9a0e","#3ef21a","#a2f277","transparent","#b24a04","transparent","#6f82f8","#c9c9fb","#66acf8","#a2f5df","#d6fbf3","transparent","#a00000","#fa0a0a","#fb5b8e","#f8b0d6","#fdd6eb","#dc52e6","transparent","#b4c1bf","transparent","transparent"]},
    "legend": {"title": null, "orient": "right", "offset": 35, "columns": 2, "strokeColor": "#999", "padding": 12, "symbolType": "square", "symbolSize": 279, "symbolStrokeWidth": 1, "symbolStrokeColor": "#777", "labelFontSize": 12.5, "labelColor": "#222", "rowPadding": 1.5, "columnPadding": 23, "labelOffset": 6, "labelLimit": 200,
      "labelExpr": "datum.value == 'Other phylum' ? 'Other' : (indexof(datum.value, 'blank') == 0 ? '' : datum.label)",
      "encode": {
       "symbols": {"update": {"opacity": {"signal": "indexof(['Actinobacteria','Proteobacteria','Bacteroidetes','Firmicutes','Other phylum','blank1','blank2'], datum.value) >= 0 ? 0 : 1"}}},
       "labels": {"update": {"dx": {"signal": "indexof(['Actinobacteria','Proteobacteria','Bacteroidetes','Firmicutes','Other phylum'], datum.value) >= 0 ? -22 : 0"}}}
      }}}
 }
}
],
"spacing": 29
}
